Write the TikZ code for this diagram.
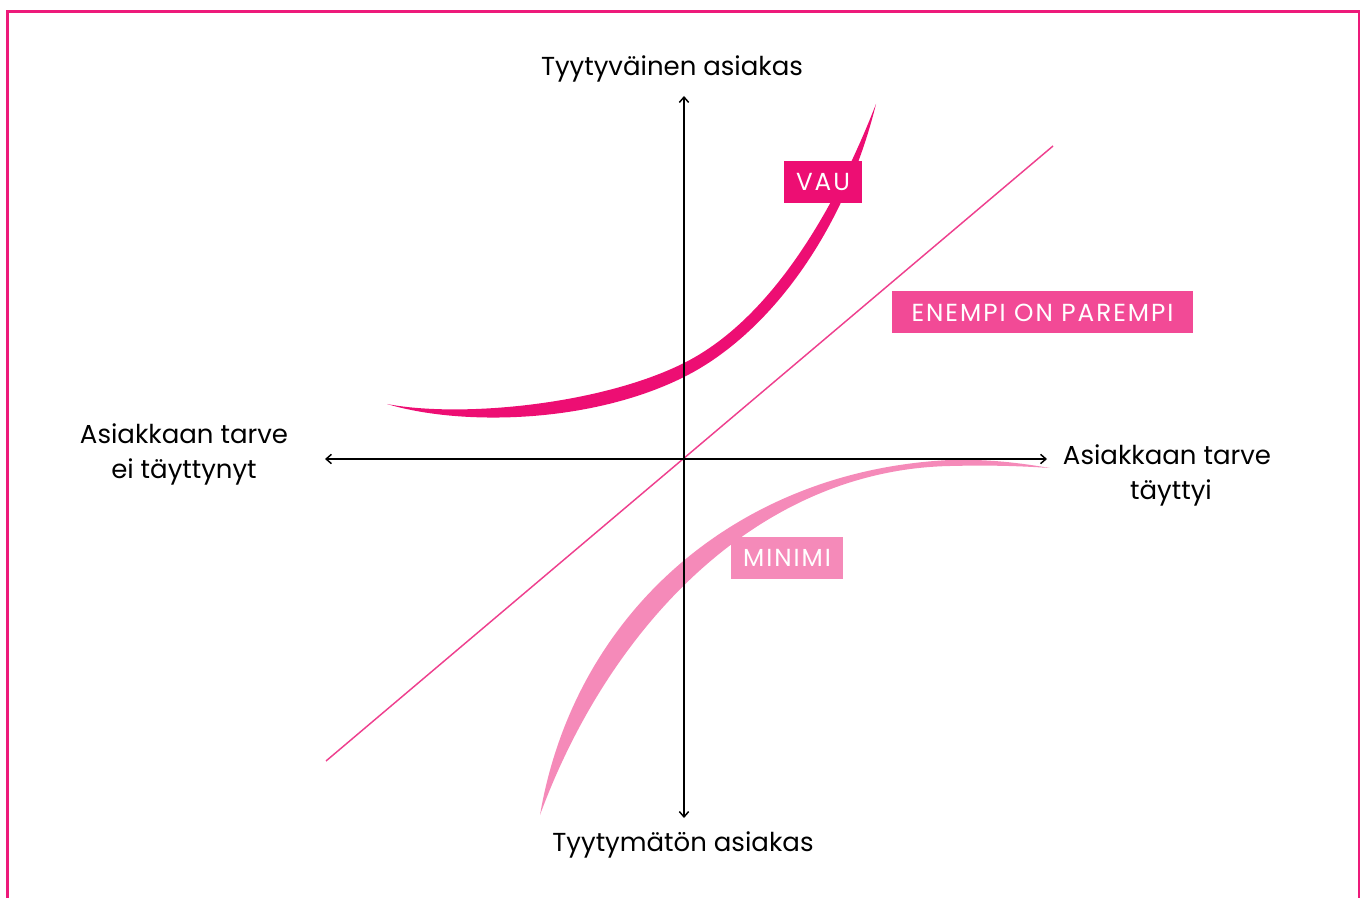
\documentclass[tikz,border=0pt]{standalone}
\usepackage{fontspec}
\setmainfont{Poppins}
\newfontfamily\tagfont[LetterSpace=8]{Poppins}
\usetikzlibrary{arrows.meta}
\definecolor{framepink}{RGB}{237,26,122}
\definecolor{vaupink}{RGB}{237,14,115}
\definecolor{morepink}{RGB}{242,74,150}
\definecolor{minpink}{RGB}{245,138,185}
\definecolor{linepink}{RGB}{238,64,142}
\begin{document}
\begin{tikzpicture}[x=0.75pt,y=-0.75pt,
  axis/.style={line width=1.1pt,-{Straight Barb[length=4pt,width=7pt,line width=1.1pt]}},
  axislabel/.style={font=\fontsize{19.5}{26.25}\selectfont,align=center,inner sep=0pt},
  tag/.style={font=\tagfont\fontsize{18.5}{20}\selectfont,text=white,inner xsep=0pt,minimum height=31.5pt,inner ysep=0pt}]
\useasboundingbox (0,0) rectangle (1364,898);
% frame, open at the bottom
\draw[framepink,line width=2.2pt] (7.5,898) -- (7.5,11.5) -- (1359,11.5) -- (1359,898);

% axes
\coordinate (O) at (684,459);
\coordinate (top) at (684,96);
\coordinate (bot) at (684,818);
\coordinate (lft) at (325,459);
\coordinate (rgt) at (1047,459);
\coordinate (d1) at (326,761);
\coordinate (d2) at (1053,146);

% "more is better" diagonal
\draw[linepink,line width=1.1pt] (d1) -- (d2);

% curve of the delighters
\fill[vaupink] (387,404) .. controls (460,426) and (590,424) .. (684,377)
  .. controls (770,334) and (845,230) .. (876,104)
  .. controls (830,222) and (765,322.5) .. (684,363)
  .. controls (600,405) and (460,418) .. (387,404) -- cycle;

% curve of the basic needs
\fill[minpink] (540,815) .. controls (575,610) and (740,470) .. (950,460)
  .. controls (990,459) and (1020,463) .. (1050,468)
  .. controls (1020,466) and (990,465) .. (950,466)
  .. controls (755,470) and (608,630) .. (540,815) -- cycle;

\draw[axis] (O) -- (top);
\draw[axis] (O) -- (bot);
\draw[axis] (O) -- (lft);
\draw[axis] (O) -- (rgt);

% axis labels
\node[axislabel] (ltop) at (672,69) {Tyytyväinen asiakas};
\node[axislabel] (lbot) at (683,845) {Tyytymätön asiakas};
\node[axislabel] (lleft) at (184,454) {Asiakkaan tarve\\ei täyttynyt};
\node[axislabel] (lright) at (1167,475) {Asiakkaan tarve\\\hspace*{6pt}täyttyi};

% tags
\node[tag,fill=vaupink,minimum width=58.5pt] (vau) at (823,182) {VAU};
\node[tag,fill=morepink,minimum width=225.75pt] (more) at (1042.5,312.5) {ENEMPI ON PAREMPI};
\node[tag,fill=minpink,minimum width=84pt] (minimi) at (787,557.5) {MINIMI};
\end{tikzpicture}
\end{document}
